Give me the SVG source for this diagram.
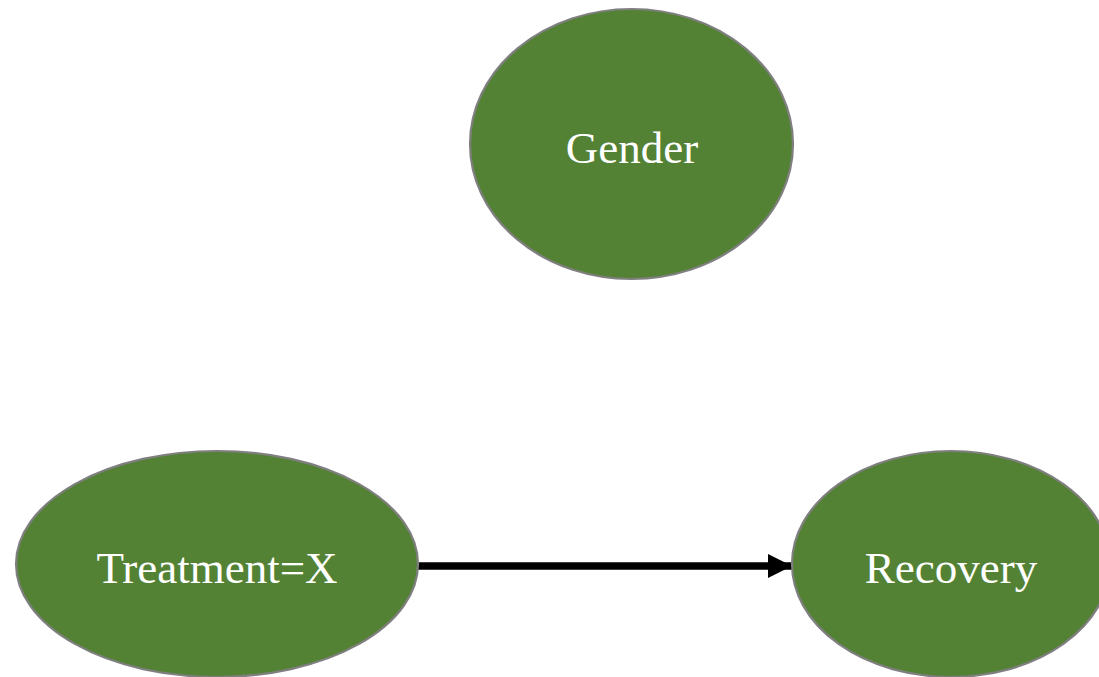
<svg xmlns="http://www.w3.org/2000/svg" width="1099" height="677" viewBox="0 0 1099 677">
  <style>
    .node { fill: #548235; stroke: #7f7f7f; stroke-width: 2.2; }
    .label { fill: #ffffff; font-family: "Liberation Serif", "Times New Roman", serif; font-size: 45px; text-anchor: middle; }
    .edge { stroke: #000000; stroke-width: 7.5; fill: none; }
  </style>
  <defs>
    <marker id="arrowhead" markerUnits="userSpaceOnUse" markerWidth="24" markerHeight="24" refX="24" refY="12" orient="auto">
      <path d="M0,0 L24,12 L0,24 Z" fill="#000000"/>
    </marker>
  </defs>
  <rect width="1099" height="677" fill="#ffffff"/>

  <g id="connectors">
    <line class="edge" x1="418" y1="566" x2="792" y2="566" marker-end="url(#arrowhead)"/>
  </g>

  <g id="node-gender">
    <ellipse class="node" cx="631.5" cy="144" rx="161.5" ry="135"/>
    <text class="label" x="632" y="163">Gender</text>
  </g>

  <g id="node-treatment">
    <ellipse class="node" cx="217" cy="564" rx="201" ry="113"/>
    <text class="label" x="217" y="583">Treatment=X</text>
  </g>

  <g id="node-recovery">
    <ellipse class="node" cx="951" cy="564" rx="159" ry="113"/>
    <text class="label" x="951" y="583">Recovery</text>
  </g>
</svg>
